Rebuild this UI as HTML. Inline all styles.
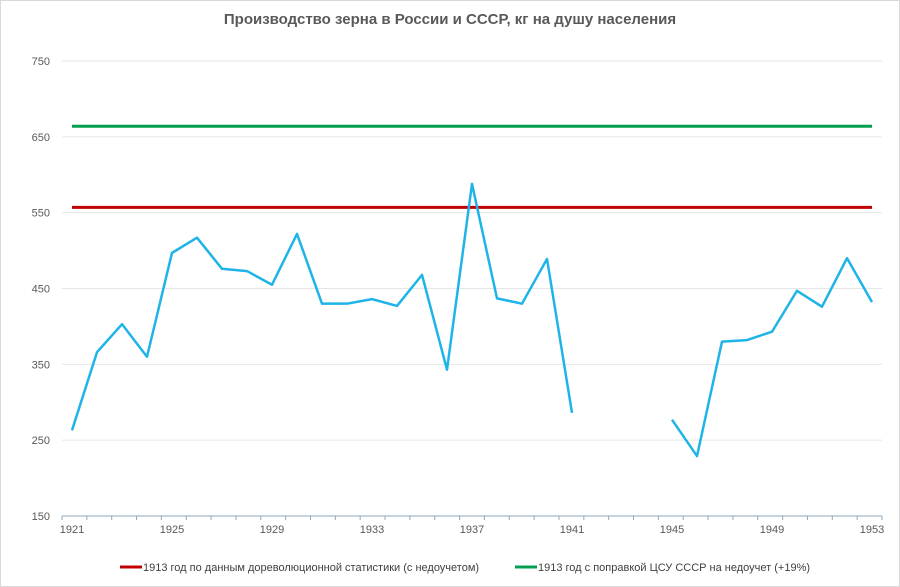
<!DOCTYPE html>
<html><head><meta charset="utf-8"><style>
body{margin:0;background:#fff}
svg{display:block;font-family:"Liberation Sans",sans-serif}
</style></head><body>
<svg width="900" height="587" viewBox="0 0 900 587">
<rect x="0.5" y="0.5" width="899" height="586" fill="#fff" stroke="#d9d9d9"/>
<text x="450" y="24" text-anchor="middle" font-size="15" font-weight="bold" fill="#595959">Производство зерна в России и СССР, кг на душу населения</text>
<g id="grid"></g><g id="axis"></g><g id="lines"></g>
<g>
<line x1="120" y1="567" x2="142" y2="567" stroke="#c00000" stroke-width="3"/>
<text x="143" y="571" font-size="11" fill="#404040">1913 год по  данным дореволюционной статистики (с недоучетом)</text>
<line x1="515" y1="567" x2="537" y2="567" stroke="#00a050" stroke-width="3"/>
<text x="538" y="571" font-size="11" fill="#404040">1913 год с поправкой  ЦСУ СССР  на недоучет (+19%)</text>
</g>
</svg>
<script>
const years=[];for(let y=1921;y<=1953;y++)years.push(y);
const production=[263,366,403,360,497,517,476,473,455,522,430,430,436,427,468,343,588,437,430,489,286,null,null,null,277,229,380,382,393,447,426,490,432];
const yTicks=[150,250,350,450,550,650,750];
const xLabels=[1921,1925,1929,1933,1937,1941,1945,1949,1953];
const ref1913=557;
const ref1913adj=664;
const NS="http://www.w3.org/2000/svg";
const X=y=>72+(y-1921)*25;
const Y=v=>516-(v-150)*0.7583;
function mk(tag,attrs,parent,text){const e=document.createElementNS(NS,tag);for(const k in attrs)e.setAttribute(k,attrs[k]);if(text!==undefined)e.textContent=text;document.getElementById(parent).appendChild(e);return e;}
yTicks.forEach(v=>{
 if(v>150){const l=mk('line',{x1:62,x2:882,y1:Y(v),y2:Y(v),stroke:'#e6e6e6'},'grid');
 
 }
 const t=mk('text',{x:50,y:Y(v)+4,'text-anchor':'end','font-size':11,fill:'#595959'},'axis',v);
 
 
});
const ax=mk('line',{x1:62,x2:882,y1:516,y2:516,stroke:'#8eaabb'},'axis');


for(let i=0;i<=years.length;i++){const tx=62+i*820/33;
 const tk=mk('line',{x1:tx,x2:tx,y1:516,y2:520,stroke:'#8eaabb'},'axis');
 
 }
xLabels.forEach(y=>{const t=mk('text',{x:X(y),y:533,'text-anchor':'middle','font-size':11,fill:'#595959'},'axis',y);
 
 });
const r=mk('line',{x1:X(1921),x2:X(1953),y1:Y(ref1913),y2:Y(ref1913),stroke:'#c00000','stroke-width':3},'lines');


const g=mk('line',{x1:X(1921),x2:X(1953),y1:Y(ref1913adj),y2:Y(ref1913adj),stroke:'#00a050','stroke-width':3},'lines');


let d='',pen=false;
production.forEach((v,i)=>{if(v===null){pen=false;return;}d+=(pen?'L':'M')+X(years[i])+' '+Y(v)+' ';pen=true;});
const p=mk('path',{d:d,fill:'none',stroke:'#1fb4e8','stroke-width':2.5,'stroke-linejoin':'round'},'lines');


</script>
</body></html>
